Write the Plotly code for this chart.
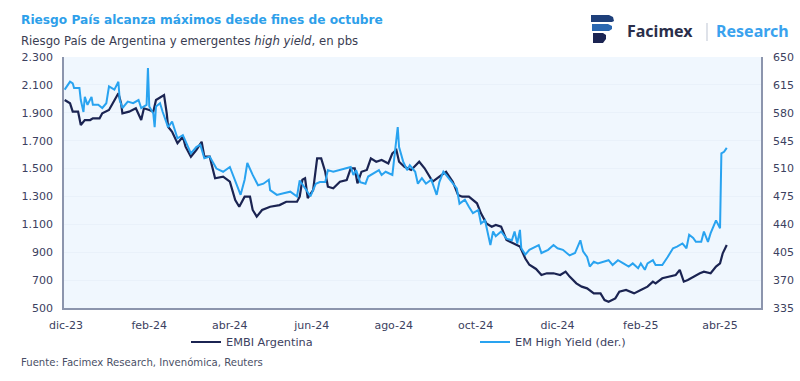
import plotly.graph_objects as go

# ---------------- DATA ----------------
embi_dates = [
    "2023-11-30", "2023-12-04", "2023-12-06", "2023-12-10", "2023-12-12", "2023-12-15", "2023-12-19",
    "2023-12-21", "2023-12-26", "2023-12-28", "2024-01-02", "2024-01-05", "2024-01-07", "2024-01-09",
    "2024-01-11", "2024-01-12", "2024-01-17", "2024-01-22", "2024-01-26", "2024-01-28", "2024-02-01",
    "2024-02-04", "2024-02-06", "2024-02-12", "2024-02-14", "2024-02-15", "2024-02-18", "2024-02-22",
    "2024-02-26", "2024-02-28", "2024-03-03", "2024-03-07", "2024-03-11", "2024-03-13", "2024-03-17",
    "2024-03-21", "2024-03-27", "2024-04-01", "2024-04-05", "2024-04-08", "2024-04-12", "2024-04-16",
    "2024-04-18", "2024-04-21", "2024-04-25", "2024-05-01", "2024-05-08", "2024-05-13", "2024-05-21",
    "2024-05-23", "2024-05-25", "2024-05-27", "2024-05-29", "2024-06-02", "2024-06-05", "2024-06-08",
    "2024-06-11", "2024-06-13", "2024-06-17", "2024-06-22", "2024-06-27", "2024-06-30", "2024-07-03",
    "2024-07-05", "2024-07-08", "2024-07-12", "2024-07-15", "2024-07-19", "2024-07-23", "2024-07-28",
    "2024-07-31", "2024-08-03", "2024-08-05", "2024-08-09", "2024-08-14", "2024-08-20", "2024-08-24",
    "2024-08-28", "2024-08-30", "2024-09-04", "2024-09-09", "2024-09-14", "2024-09-18", "2024-09-21",
    "2024-09-26", "2024-10-02", "2024-10-05", "2024-10-09", "2024-10-13", "2024-10-16", "2024-10-20",
    "2024-10-24", "2024-10-29", "2024-11-03", "2024-11-07", "2024-11-10", "2024-11-15", "2024-11-19",
    "2024-11-23", "2024-11-28", "2024-12-03", "2024-12-07", "2024-12-10", "2024-12-15", "2024-12-19",
    "2024-12-23", "2024-12-28", "2025-01-02", "2025-01-05", "2025-01-08", "2025-01-13", "2025-01-16",
    "2025-01-21", "2025-01-27", "2025-02-01", "2025-02-06", "2025-02-10", "2025-02-12", "2025-02-17",
    "2025-02-22", "2025-02-27", "2025-03-02", "2025-03-05", "2025-03-08", "2025-03-12", "2025-03-17",
    "2025-03-20", "2025-03-25", "2025-03-29", "2025-04-01", "2025-04-03", "2025-04-06",
]
embi_values = [
    1992, 1968, 1908, 1908, 1812, 1848, 1848,
    1860, 1860, 1896, 1920, 1968, 2004, 2040,
    1968, 1896, 1908, 1932, 1848, 1932, 1920,
    1908, 1992, 2027, 1896, 1800, 1764, 1681,
    1728, 1657, 1585, 1633, 1692, 1585, 1585,
    1430, 1442, 1406, 1274, 1226, 1298, 1298,
    1203, 1155, 1203, 1226, 1238, 1262, 1262,
    1298, 1420, 1430, 1288, 1346, 1573, 1573,
    1477, 1370, 1358, 1406, 1418, 1502, 1502,
    1394, 1477, 1490, 1573, 1549, 1561, 1537,
    1609, 1633, 1549, 1513, 1490, 1549, 1502,
    1442, 1406, 1442, 1477, 1406, 1310, 1298,
    1298, 1251, 1179, 1107, 1083, 1095, 1083,
    988, 964, 940, 855, 810, 780, 737,
    749, 749, 737, 761, 725, 677, 653,
    641, 605, 605, 557, 545, 569, 617,
    629, 605, 629, 653, 689, 677, 713,
    725, 737, 773, 689, 701, 725, 749,
    761, 749, 797, 820, 892, 952,
]

emhy_dates = [
    "2023-11-30", "2023-12-04", "2023-12-06", "2023-12-07", "2023-12-11", "2023-12-12", "2023-12-14",
    "2023-12-15", "2023-12-17", "2023-12-20", "2023-12-21", "2023-12-25", "2023-12-28", "2023-12-31",
    "2024-01-02", "2024-01-06", "2024-01-09", "2024-01-10", "2024-01-12", "2024-01-16", "2024-01-20",
    "2024-01-24", "2024-01-26", "2024-01-30", "2024-01-31", "2024-02-01", "2024-02-04", "2024-02-05",
    "2024-02-06", "2024-02-09", "2024-02-11", "2024-02-15", "2024-02-18", "2024-02-22", "2024-02-26",
    "2024-02-28", "2024-03-03", "2024-03-07", "2024-03-10", "2024-03-13", "2024-03-17", "2024-03-22",
    "2024-03-27", "2024-04-01", "2024-04-05", "2024-04-09", "2024-04-12", "2024-04-14", "2024-04-18",
    "2024-04-22", "2024-04-26", "2024-04-30", "2024-05-01", "2024-05-06", "2024-05-11", "2024-05-16",
    "2024-05-21", "2024-05-23", "2024-05-28", "2024-05-31", "2024-06-04", "2024-06-07", "2024-06-11",
    "2024-06-13", "2024-06-17", "2024-06-21", "2024-06-25", "2024-06-30", "2024-07-02", "2024-07-04",
    "2024-07-07", "2024-07-11", "2024-07-13", "2024-07-17", "2024-07-21", "2024-07-23", "2024-07-26",
    "2024-07-31", "2024-08-02", "2024-08-04", "2024-08-05", "2024-08-08", "2024-08-11", "2024-08-13",
    "2024-08-17", "2024-08-19", "2024-08-22", "2024-08-25", "2024-08-29", "2024-09-02", "2024-09-04",
    "2024-09-07", "2024-09-09", "2024-09-13", "2024-09-17", "2024-09-19", "2024-09-23", "2024-09-26",
    "2024-09-29", "2024-10-03", "2024-10-05", "2024-10-08", "2024-10-12", "2024-10-14", "2024-10-16",
    "2024-10-20", "2024-10-24", "2024-10-28", "2024-10-30", "2024-11-01", "2024-11-03", "2024-11-04",
    "2024-11-07", "2024-11-10", "2024-11-14", "2024-11-17", "2024-11-19", "2024-11-24", "2024-11-28",
    "2024-12-01", "2024-12-05", "2024-12-10", "2024-12-14", "2024-12-18", "2024-12-20", "2024-12-23",
    "2024-12-25", "2024-12-28", "2024-12-31", "2025-01-04", "2025-01-08", "2025-01-11", "2025-01-15",
    "2025-01-19", "2025-01-23", "2025-01-26", "2025-01-30", "2025-02-01", "2025-02-04", "2025-02-06",
    "2025-02-10", "2025-02-12", "2025-02-17", "2025-02-21", "2025-02-25", "2025-02-28", "2025-03-04",
    "2025-03-07", "2025-03-09", "2025-03-12", "2025-03-14", "2025-03-18", "2025-03-20", "2025-03-23",
    "2025-03-25", "2025-03-29", "2025-04-01", "2025-04-02", "2025-04-04", "2025-04-06",
]
emhy_values = [
    609, 619, 617, 611, 611, 596, 581,
    600, 590, 600, 590, 590, 586, 592,
    613, 609, 619, 596, 586, 594, 592,
    596, 586, 590, 636, 588, 579, 562,
    588, 592, 581, 562, 569, 548, 552,
    544, 529, 537, 540, 523, 525, 510,
    506, 512, 494, 477, 496, 517, 502,
    489, 491, 496, 483, 477, 479, 481,
    475, 495, 483, 475, 491, 493, 493,
    508, 506, 508, 510, 512, 502, 508,
    493, 491, 500, 504, 508, 502, 506,
    502, 529, 562, 537, 519, 508, 514,
    506, 491, 498, 491, 496, 477, 493,
    506, 502, 493, 485, 466, 471, 462,
    454, 458, 441, 445, 414, 431, 425,
    431, 422, 420, 431, 416, 433, 410,
    402, 408, 412, 414, 404, 408, 414,
    410, 408, 401, 404, 420, 406, 399,
    387, 393, 391, 393, 395, 389, 395,
    391, 387, 391, 385, 391, 383, 391,
    395, 389, 389, 399, 410, 412, 416,
    410, 427, 423, 418, 418, 431, 418,
    429, 445, 435, 529, 531, 536,
]

tick_dates = ["2023-12-01", "2024-02-01", "2024-04-01", "2024-06-01", "2024-08-01",
              "2024-10-01", "2024-12-01", "2025-02-01", "2025-04-01"]
tick_labels = ["dic-23", "feb-24", "abr-24", "jun-24", "ago-24",
               "oct-24", "dic-24", "feb-25", "abr-25"]

title_text = "Riesgo País alcanza máximos desde fines de octubre"
subtitle_text = "Riesgo País de Argentina y emergentes <i>high yield</i>, en pbs"
source_text = "Fuente: Facimex Research, Invenómica, Reuters"
series_names = ["EMBI Argentina", "EM High Yield (der.)"]

# ---------------- STYLE ----------------
W, H = 800, 381
ML, MR, MT, MB = 64, 39, 57, 73
PW, PH = W - ML - MR, H - MT - MB
NAVY = "#1B2452"
LIGHT = "#29A3F0"
AXIS = "#8C95AD"
TXT = "#3C4160"
FONT = "DejaVu Sans"
LOGO_FONT = "Noto Sans"


def px(x):
    return (x - ML) / PW


def py(y):
    return (H - MB - y) / PH


fig = go.Figure()
fig.add_trace(go.Scatter(x=embi_dates, y=embi_values, name=series_names[0], mode="lines",
                         line=dict(color=NAVY, width=2.2), yaxis="y"))
fig.add_trace(go.Scatter(x=emhy_dates, y=emhy_values, name=series_names[1], mode="lines",
                         line=dict(color=LIGHT, width=2.0), yaxis="y2"))

fig.update_layout(
    width=W, height=H,
    margin=dict(l=ML, r=MR, t=MT, b=MB, pad=0, autoexpand=False),
    paper_bgcolor="white",
    plot_bgcolor="#F0F7FE",
    separators=",.",
    font=dict(family=FONT, color=TXT, size=11),
    showlegend=True,
    legend=dict(orientation="h", x=px(186), y=py(342), xanchor="left", yanchor="middle",
                entrywidth=244, entrywidthmode="pixels", font=dict(size=11.3, color=TXT),
                bgcolor="rgba(0,0,0,0)", itemwidth=30, tracegroupgap=0),
    xaxis=dict(type="date", range=["2023-11-29 12:00", "2025-05-01 12:00"],
               tickvals=tick_dates, ticktext=tick_labels, ticks="", showgrid=False,
               showline=True, linecolor=AXIS, linewidth=1.5, zeroline=False,
               tickfont=dict(size=11, color=TXT), ticklabelstandoff=6),
    yaxis=dict(range=[500, 2300], dtick=200, tick0=500, tickformat=",d", ticks="",
               showline=True, linecolor=AXIS, linewidth=1.5, showgrid=True,
               gridcolor="#E9F1FA", gridwidth=1, zeroline=False,
               tickfont=dict(size=11, color=TXT), ticklabelstandoff=7),
    yaxis2=dict(range=[335, 650], dtick=35, tick0=335, overlaying="y", side="right",
                ticks="", showline=True, linecolor=AXIS, linewidth=1.5, showgrid=False,
                zeroline=False, tickfont=dict(size=11, color=TXT), ticklabelstandoff=8),
)

ann = [
    dict(text="<b>" + title_text + "</b>", x=px(19), y=py(20), xref="paper", yref="paper",
         xanchor="left", yanchor="middle", showarrow=False,
         font=dict(size=12.2, color="#2E9FEA", family=FONT)),
    dict(text=subtitle_text, x=px(19), y=py(41), xref="paper", yref="paper",
         xanchor="left", yanchor="middle", showarrow=False,
         font=dict(size=11.7, color="#3A3D52", family=FONT)),
    dict(text=source_text, x=px(19), y=py(362), xref="paper", yref="paper",
         xanchor="left", yanchor="middle", showarrow=False,
         font=dict(size=10.1, color="#4A4F66", family=FONT)),
    dict(text="<b>Facimex</b>", x=px(625), y=py(31), xref="paper", yref="paper",
         xanchor="left", yanchor="middle", showarrow=False,
         font=dict(size=16, color="#2A2E4A", family=LOGO_FONT)),
    dict(text="<b>Research</b>", x=px(714), y=py(31), xref="paper", yref="paper",
         xanchor="left", yanchor="middle", showarrow=False,
         font=dict(size=16, color="#3AA2EE", family=LOGO_FONT)),
]
fig.update_layout(annotations=ann)


def path(points):
    s = "M " + " L ".join(f"{px(a)},{py(b)}" for a, b in points) + " Z"
    return s


shapes = [
    # separator bar in logo
    dict(type="line", xref="paper", yref="paper", x0=px(707), x1=px(707), y0=py(23), y1=py(41),
         line=dict(color="#C9CFDB", width=1.2)),
    # logo icon: three stacked bars
    dict(type="path", xref="paper", yref="paper",
         path=path([(591, 15), (609, 15), (613, 17), (614, 21), (612, 22), (591, 22)]),
         fillcolor="#1E3F7A", line=dict(width=0)),
    dict(type="path", xref="paper", yref="paper",
         path=path([(592, 24), (608, 24), (612, 26), (612, 29), (609, 31), (592, 31)]),
         fillcolor="#2A67B0", line=dict(width=0)),
    dict(type="path", xref="paper", yref="paper",
         path=path([(593, 33), (603, 33), (606, 35), (606, 39), (603, 43), (593, 43)]),
         fillcolor="#1B2452", line=dict(width=0)),
]
fig.update_layout(shapes=shapes)

fig.write_html("out.html", config={"displayModeBar": False},
               post_script="document.body.style.margin='0px';")
